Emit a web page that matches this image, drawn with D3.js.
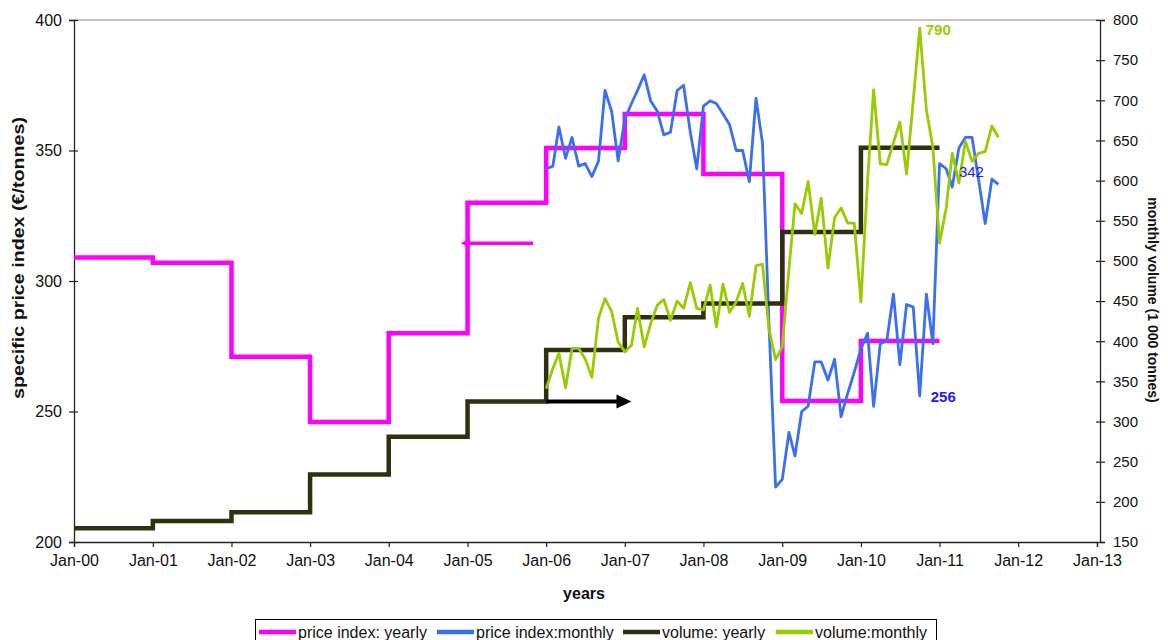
<!DOCTYPE html>
<html><head><meta charset="utf-8">
<script src="https://cdn.jsdelivr.net/npm/d3@7"></script>
<style>body{margin:0;background:#fff} text{font-family:"Liberation Sans",Arial,sans-serif}</style>
</head><body><svg id="c" width="1168" height="640"></svg>
<script>
// ---------- data ----------
const years = [2000,2001,2002,2003,2004,2005,2006,2007,2008,2009,2010];
const priceYearly  = [309,307,271,246,280,330,351,364,341,254,277];
const volumeYearly = [167,176,187,234,281,325,389,430,447,536,641];
const monthlyStart = [2006,0]; // Jan-06
const priceMonthly = [
 343,344,359,347,355,344,345,340,346,373,365,346,
 362,368,373,379,369,365,356,357,373,375,357,343,
 367,369,368,364,360,350,350,338,370,353,282,221,
 224,242,233,250,252,269,269,262,270,248,257,265,
 274,280,252,276,277,295,268,291,290,256,295,276,
 345,343,336,351,355,355,339,322,339,337];
const volumeMonthly = [
 341,366,385,342,391,391,378,355,429,453,437,399,
 387,395,441,393,422,445,452,426,450,441,473,441,
 439,470,418,471,436,449,472,431,494,496,414,377,
 393,490,571,559,599,533,578,491,554,566,547,547,
 449,600,713,621,620,647,673,608,700,790,688,642,
 522,566,634,597,649,624,634,636,668,654];
const leftTicks  = [200,250,300,350,400];
const rightTicks = [150,200,250,300,350,400,450,500,550,600,650,700,750,800];
const xTickYears = [2000,2001,2002,2003,2004,2005,2006,2007,2008,2009,2010,2011,2012,2013];
const seriesNames = ["price index: yearly","price index:monthly","volume: yearly","volume:monthly"];
const seriesColors = ["#ff00ff","#3b6ff2","#2f2f12","#99cc00"];
// annotations: [fromDate(y,m), toDate(y,m), value]
const priceArrow  = {from:[2005,10], to:[2004,11], value:314.5};
const volumeArrow = {from:[2006,0],  to:[2007,1],  value:325};
const labels = [
 {text:"790", date:[2010,9], value:790, axis:"R", dx:6,  dy:7,  color:"#99cc00", bold:true},
 {text:"342", date:[2011,3], value:342, axis:"L", dx:0,  dy:6,  color:"#2020e8", bold:false},
 {text:"256", date:[2010,9], value:256, axis:"L", dx:11, dy:6,  color:"#2020e8", bold:true}
];

// ---------- scales ----------
const svg = d3.select("#c");
const X0=74, X1=1097, Y0=20, Y1=542;
const x  = d3.scaleTime().domain([new Date(2000,0,1), new Date(2013,0,1)]).range([X0,X1]);
const yL = d3.scaleLinear().domain([200,400]).range([Y1,Y0]);
const yR = d3.scaleLinear().domain([150,800]).range([Y1,Y0]);
const md = (i) => new Date(monthlyStart[0], monthlyStart[1]+i, 1);
const dt = (a) => new Date(a[0], a[1], 1);

svg.append("rect").attr("width",1168).attr("height",640).attr("fill","#fff");

// top border of plot area
svg.append("line").attr("x1",X0).attr("x2",X1+3).attr("y1",Y0).attr("y2",Y0)
  .attr("stroke","#8a8a8a").attr("stroke-width",1.2);

// ---------- axes ----------
const fontTick = 16;
const gL = svg.append("g").attr("transform",`translate(${X0},0)`)
  .call(d3.axisLeft(yL).tickValues(leftTicks).tickSize(5).tickPadding(7).tickFormat(d3.format("d")));
gL.selectAll(".tick line").attr("x1",4);
const gR = svg.append("g").attr("transform",`translate(${X1+3},0)`)
  .call(d3.axisRight(yR).tickValues(rightTicks).tickSize(5).tickPadding(8).tickFormat(d3.format("d")));
gR.selectAll(".tick line").attr("x1",-4);
const gB = svg.append("g").attr("transform",`translate(0,${Y1})`)
  .call(d3.axisBottom(x).tickValues(xTickYears.map(y=>new Date(y,0,1))).tickSize(5).tickPadding(8)
    .tickFormat(d3.timeFormat("Jan-%y")));
[gL,gR,gB].forEach(g=>{
  g.selectAll("path.domain").attr("stroke","#222").attr("stroke-width",1.3);
  g.selectAll(".tick line").attr("stroke","#222").attr("stroke-width",1.2);
  g.selectAll("text").attr("font-size",fontTick).attr("fill","#111")
   .attr("font-family","'Liberation Sans',Arial,sans-serif");
});
gR.selectAll("text").attr("font-size",15);

// axis titles
svg.append("text").attr("transform",`translate(24,258) rotate(-90)`).attr("text-anchor","middle")
  .attr("font-size",16).attr("font-weight","bold").attr("fill","#111")
  .attr("textLength",282).attr("lengthAdjust","spacingAndGlyphs").text("specific price index (€/tonnes)");
svg.append("text").attr("transform",`translate(1148,300) rotate(90)`).attr("text-anchor","middle")
  .attr("font-size",14).attr("font-weight","bold").attr("fill","#111").text("monthly volume (1 000 tonnes)");
svg.append("text").attr("x",584).attr("y",599).attr("text-anchor","middle")
  .attr("font-size",16).attr("font-weight","bold").attr("fill","#111").text("years");

// ---------- series ----------
const stepData = (vals) => { const d = vals.map((v,i)=>({d:new Date(years[i],0,1),v}));
  d.push({d:new Date(years[years.length-1]+1,0,1), v:vals[vals.length-1]}); return d; };
const stepL = d3.line().x(p=>x(p.d)).y(p=>yL(p.v)).curve(d3.curveStepAfter);
const stepR = d3.line().x(p=>x(p.d)).y(p=>yR(p.v)).curve(d3.curveStepAfter);
const lineL = d3.line().x((v,i)=>x(md(i))).y(v=>yL(v));
const lineR = d3.line().x((v,i)=>x(md(i))).y(v=>yR(v));

svg.append("path").attr("d",stepL(stepData(priceYearly))).attr("fill","none")
  .attr("stroke",seriesColors[0]).attr("stroke-width",4.5).attr("stroke-linejoin","miter");
svg.append("path").attr("d",lineL(priceMonthly)).attr("fill","none")
  .attr("stroke",seriesColors[1]).attr("stroke-width",2.8).attr("stroke-linejoin","round");
svg.append("path").attr("d",stepR(stepData(volumeYearly))).attr("fill","none")
  .attr("stroke",seriesColors[2]).attr("stroke-width",4.5);
svg.append("path").attr("d",lineR(volumeMonthly)).attr("fill","none")
  .attr("stroke",seriesColors[3]).attr("stroke-width",2.8).attr("stroke-linejoin","round");

// ---------- arrows (drawn as line + triangle head) ----------
function arrow(x1, x2, y, color, width, headLen, headHalf){
  const dir = Math.sign(x2 - x1);
  svg.append("line").attr("x1",x1).attr("x2",x2 - dir*headLen*0.8).attr("y1",y).attr("y2",y)
    .attr("stroke",color).attr("stroke-width",width);
  svg.append("path").attr("d",`M${x2},${y} L${x2-dir*headLen},${y-headHalf} L${x2-dir*headLen},${y+headHalf} Z`)
    .attr("fill",color);
}
arrow(x(dt(priceArrow.from)), x(dt(priceArrow.to)), yL(priceArrow.value), "#ff00ff", 3.5, 9, 5);
arrow(x(dt(volumeArrow.from)), x(dt(volumeArrow.to)), yR(volumeArrow.value), "#000", 4, 15, 7);

// ---------- value labels ----------
labels.forEach(l=>{
  const yy = l.axis==="R" ? yR(l.value) : yL(l.value);
  svg.append("text").attr("x",x(dt(l.date))+l.dx).attr("y",yy+l.dy).attr("font-size",15)
    .attr("font-weight",l.bold?"bold":"normal").attr("fill",l.color).text(l.text);
});

// ---------- legend ----------
const lg = svg.append("g");
lg.append("rect").attr("x",255.5).attr("y",619.5).attr("width",681).attr("height",30)
  .attr("fill","#fff").attr("stroke","#000").attr("stroke-width",1);
const lgX = [259,437,623,776];
seriesNames.forEach((n,i)=>{
  lg.append("line").attr("x1",lgX[i]).attr("x2",lgX[i]+37).attr("y1",632).attr("y2",632)
    .attr("stroke",seriesColors[i]).attr("stroke-width",4.5);
  lg.append("text").attr("x",lgX[i]+39).attr("y",638).attr("font-size",16).attr("fill","#111").text(n);
});
</script></body></html>
